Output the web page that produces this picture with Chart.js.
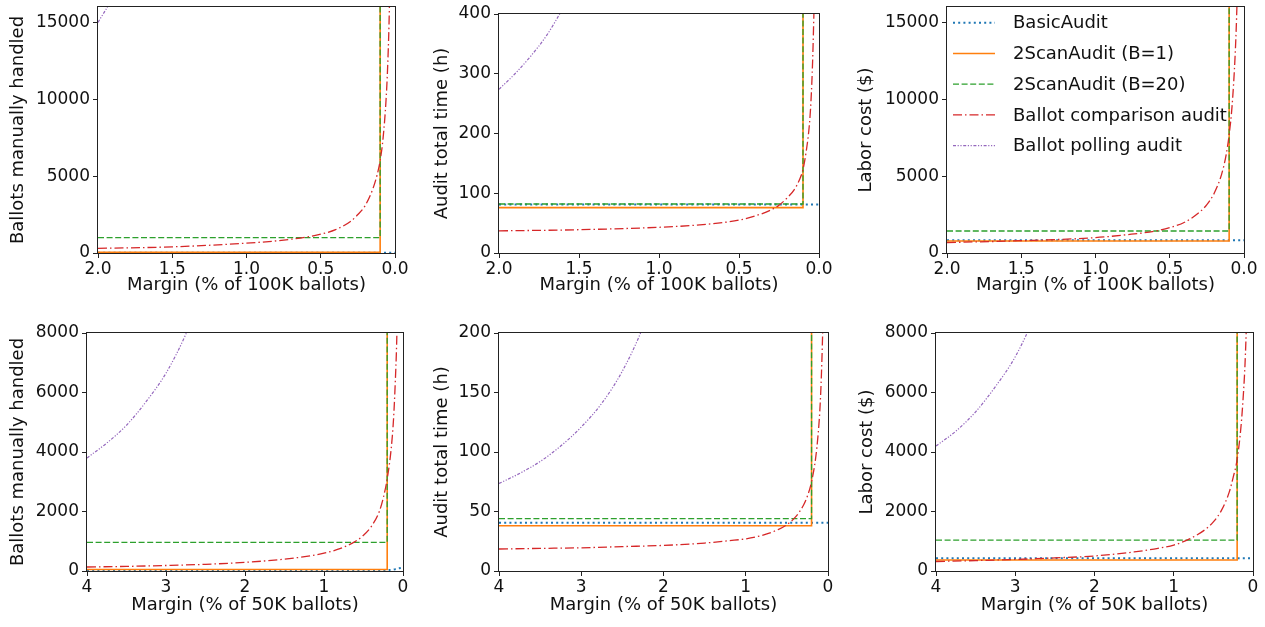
<!DOCTYPE html>
<html>
<head>
<meta charset="utf-8">
<script src="https://cdn.jsdelivr.net/npm/chart.js@4.4.1/dist/chart.umd.min.js"></script>
<style>
  html, body { margin: 0; padding: 0; background: #fff; }
  body { width: 1265px; height: 627px; position: relative; overflow: hidden; }
  canvas { position: absolute; }
</style>
</head>
<body>
<canvas id="p1"></canvas>
<canvas id="p2"></canvas>
<canvas id="p3"></canvas>
<canvas id="p4"></canvas>
<canvas id="p5"></canvas>
<canvas id="p6"></canvas>
<script>
// ---- data ----
var seriesNames = ['BasicAudit', '2ScanAudit (B=1)', '2ScanAudit (B=20)', 'Ballot comparison audit', 'Ballot polling audit'];

// top row: 100K ballots, margin in %
var xTicksTop = [0, 0.5, 1.0, 1.5, 2.0];
var basicXTop = [2.0, 0.0];
var stepXTop = [2.0, 0.1, 0.1, 0.0];
var compXTop = [2.0, 1.5, 1.0, 0.8, 0.6, 0.5, 0.4, 0.3, 0.25, 0.2, 0.15, 0.12, 0.1, 0.08, 0.06, 0.05, 0.04, 0.03];
var pollXTop = [2.0, 1.9, 1.8, 1.7, 1.6, 1.5, 1.4];

var basicBallotsTop = [10, 10];
var scanB1BallotsTop = [50, 50, 100000, 100000];
var scanB20BallotsTop = [1000, 1000, 100000, 100000];
var compBallotsTop = [300, 400, 640, 790, 1030, 1220, 1520, 2050, 2500, 3100, 4150, 5100, 6000, 7500, 10000, 12000, 15000, 20000];
var pollBallotsTop = [15000, 16600, 18500, 20800, 23400, 26700, 30600];

var basicTimeTop = [81, 81];
var scanB1TimeTop = [76, 76, 1500, 1500];
var scanB20TimeTop = [82, 82, 1500, 1500];
var compTimeTop = [37, 39, 43, 46, 51, 55, 62, 72, 80, 92, 108, 124, 140, 170, 215, 255, 320, 420];
var pollTimeTop = [274, 300, 330, 365, 410, 460, 520];

var basicCostTop = [830, 830];
var scanB1CostTop = [780, 780, 30000, 30000];
var scanB20CostTop = [1430, 1430, 30000, 30000];
var compCostTop = [680, 800, 1000, 1180, 1420, 1650, 2000, 2650, 3150, 3900, 5150, 6400, 7700, 9600, 12800, 15300, 19000, 25000];
var pollCostTop = [30000, 33000, 36800, 41200, 46500, 53000, 60500];

// bottom row: 50K ballots
var xTicksBot = [0, 1, 2, 3, 4];
var basicXBot = [4, 0.2, 0.15, 0.1, 0.05, 0];
var basicFlatXBot = [4, 0];
var stepXBot = [4, 0.2, 0.2, 0];
var compXBot = [4, 3.5, 3, 2.5, 2, 1.5, 1.2, 1.0, 0.8, 0.6, 0.5, 0.4, 0.3, 0.25, 0.2, 0.15, 0.12, 0.1, 0.08, 0.06, 0.05];
var pollXBot = [4, 3.75, 3.5, 3.25, 3.0, 2.75, 2.5, 2.25, 2.0];

var basicBallotsBot = [25, 25, 40, 60, 90, 110];
var scanB1BallotsBot = [50, 50, 50000, 50000];
var scanB20BallotsBot = [960, 960, 50000, 50000];
var compBallotsBot = [135, 155, 185, 225, 290, 400, 500, 600, 750, 1000, 1200, 1500, 2000, 2450, 3100, 4100, 5100, 6200, 7700, 10300, 12500];
var pollBallotsBot = [3800, 4300, 4900, 5700, 6650, 7950, 9600, 11900, 15000];

var basicTimeBot = [40.5, 40.5];
var scanB1TimeBot = [38, 38, 800, 800];
var scanB20TimeBot = [44, 44, 800, 800];
var compTimeBot = [18.5, 19, 19.5, 20.5, 21.5, 23.5, 25.5, 27, 30, 35, 39, 45, 55, 63, 75, 95, 115, 134, 165, 215, 255];
var pollTimeBot = [73.5, 82, 92, 105, 121, 141, 168, 205, 256];

var basicCostBot = [425, 425];
var scanB1CostBot = [370, 370, 15000, 15000];
var scanB20CostBot = [1040, 1040, 15000, 15000];
var compCostBot = [320, 350, 390, 440, 505, 640, 760, 870, 1080, 1400, 1650, 2030, 2650, 3150, 3750, 4900, 6000, 7000, 8600, 11200, 13400];
var pollCostBot = [4200, 4700, 5350, 6200, 7200, 8600, 10300, 12700, 16000];

var yTicksBallotsTop = [0, 5000, 10000, 15000];
var yTicksTimeTop = [0, 100, 200, 300, 400];
var yTicksCostTop = [0, 5000, 10000, 15000];
var yTicksBallotsBot = [0, 2000, 4000, 6000, 8000];
var yTicksTimeBot = [0, 50, 100, 150, 200];
var yTicksCostBot = [0, 2000, 4000, 6000, 8000];

// ---- styles ----
var FONT = "'DejaVu Sans', sans-serif";
var TEXT = '#111';
var STYLES = [
  { color: '#1f77b4', width: 2, dash: [2, 3.2] },
  { color: '#ff7f0e', width: 1.6, dash: [] },
  { color: '#2ca02c', width: 1.3, dash: [6, 2.6] },
  { color: '#d62728', width: 1.3, dash: [9, 3, 1.5, 3] },
  { color: '#9467bd', width: 1.2, dash: [3, 1.6, 1.2, 1.6, 1.2, 1.6] },
];

function pts(xs, ys) {
  return xs.map(function (x, i) { return { x: x, y: ys[i] }; });
}

var framePlugin = {
  id: 'frame',
  afterDatasetsDraw: function (chart) {
    var a = chart.chartArea, ctx = chart.ctx;
    ctx.save();
    ctx.strokeStyle = '#222';
    ctx.lineWidth = 1;
    ctx.setLineDash([]);
    ctx.strokeRect(Math.round(a.left) - 0.5, Math.round(a.top) - 0.5, Math.round(a.right - a.left) + 1, Math.round(a.bottom - a.top) + 1);
    ctx.restore();
  },
};

var insideLegend = {
  id: 'insideLegend',
  afterDraw: function (chart) {
    if (!chart.options.plugins.insideLegend || !chart.options.plugins.insideLegend.show) return;
    var a = chart.chartArea, ctx = chart.ctx;
    ctx.save();
    ctx.font = '18px ' + FONT;
    ctx.textBaseline = 'middle';
    ctx.textAlign = 'left';
    seriesNames.forEach(function (name, i) {
      var y = a.top + 15.7 + i * 30.75;
      var st = STYLES[i];
      ctx.strokeStyle = st.color;
      ctx.lineWidth = st.width;
      ctx.setLineDash(st.dash);
      ctx.beginPath();
      ctx.moveTo(a.left + 6, y);
      ctx.lineTo(a.left + 48, y);
      ctx.stroke();
      ctx.setLineDash([]);
      ctx.fillStyle = TEXT;
      ctx.fillText(name, a.left + 66, y + 1);
    });
    ctx.restore();
  },
};

function makePanel(id, box, cfg) {
  var cx = Math.round(box.titleX - 25), cy = Math.round(box.T - 20);
  var cw = Math.round(box.R + 20 - cx);
  var xAxisH = Math.round(box.titleY - box.B + 10.8);
  var ch = Math.round(box.B - cy + xAxisH);
  var yAxisW = box.L - cx;
  var el = document.getElementById(id);
  el.style.left = cx + 'px';
  el.style.top = cy + 'px';
  el.width = cw; el.height = ch;
  el.style.width = cw + 'px'; el.style.height = ch + 'px';

  var datasets = cfg.series.map(function (s, i) {
    var st = STYLES[i];
    return {
      label: seriesNames[i],
      data: pts(s[0], s[1]),
      borderColor: st.color,
      borderWidth: st.width,
      borderDash: st.dash,
      pointRadius: 0,
      fill: false,
      order: 5 - i,
      cubicInterpolationMode: s[2] ? 'monotone' : 'default',
      tension: 0,
    };
  });

  return new Chart(el, {
    type: 'line',
    data: { datasets: datasets },
    plugins: [framePlugin, insideLegend],
    options: {
      responsive: false,
      animation: false,
      devicePixelRatio: 1,
      layout: { padding: { top: 20, right: 20, left: 0, bottom: 0 } },
      plugins: {
        legend: { display: false },
        tooltip: { enabled: false },
        insideLegend: { show: !!cfg.legend },
      },
      scales: {
        x: {
          type: 'linear', min: 0, max: cfg.xMax, reverse: true,
          afterBuildTicks: function (s) { s.ticks = cfg.xTicks.map(function (v) { return { value: v }; }); },
          afterFit: function (s) { s.height = xAxisH; },
          grid: { drawOnChartArea: false, color: '#222', tickLength: 5 },
          border: { display: false },
          ticks: {
            color: TEXT, font: { family: FONT, size: 17 }, padding: 1, maxRotation: 0, autoSkip: false,
            callback: function (v) { return Number(v).toFixed(cfg.xDec); },
          },
          title: { display: true, text: cfg.xTitle, color: TEXT, font: { family: FONT, size: 18 }, padding: { top: 0, bottom: 0 } },
        },
        y: {
          type: 'linear', min: 0, max: cfg.yMax,
          afterBuildTicks: function (s) { s.ticks = cfg.yTicks.map(function (v) { return { value: v }; }); },
          afterFit: function (s) { s.width = yAxisW; },
          grid: { drawOnChartArea: false, color: '#222', tickLength: 5 },
          border: { display: false },
          ticks: {
            color: TEXT, font: { family: FONT, size: 17 }, padding: 3, autoSkip: false,
            callback: function (v) { return String(v); },
          },
          title: { display: true, text: cfg.yTitle, color: TEXT, font: { family: FONT, size: 18 }, padding: { top: 14.2, bottom: 0 } },
        },
      },
    },
  });
}

var xTitleTop = 'Margin (% of 100K ballots)';
var xTitleBot = 'Margin (% of 50K ballots)';

makePanel('p1', { L: 98, R: 395, T: 7, B: 253, titleX: 18, titleY: 285 }, {
  xMax: 2, xTicks: xTicksTop, xDec: 1, yMax: 16000, yTicks: yTicksBallotsTop,
  xTitle: xTitleTop, yTitle: 'Ballots manually handled',
  series: [[basicXTop, basicBallotsTop], [stepXTop, scanB1BallotsTop], [stepXTop, scanB20BallotsTop], [compXTop, compBallotsTop, 1], [pollXTop, pollBallotsTop, 1]],
});
makePanel('p2', { L: 499, R: 819, T: 14, B: 253, titleX: 441.7, titleY: 285 }, {
  xMax: 2, xTicks: xTicksTop, xDec: 1, yMax: 400, yTicks: yTicksTimeTop,
  xTitle: xTitleTop, yTitle: 'Audit total time (h)',
  series: [[basicXTop, basicTimeTop], [stepXTop, scanB1TimeTop], [stepXTop, scanB20TimeTop], [compXTop, compTimeTop, 1], [pollXTop, pollTimeTop, 1]],
});
makePanel('p3', { L: 947, R: 1244, T: 7, B: 253, titleX: 866, titleY: 285 }, {
  xMax: 2, xTicks: xTicksTop, xDec: 1, yMax: 16000, yTicks: yTicksCostTop,
  xTitle: xTitleTop, yTitle: 'Labor cost ($)', legend: true,
  series: [[basicXTop, basicCostTop], [stepXTop, scanB1CostTop], [stepXTop, scanB20CostTop], [compXTop, compCostTop, 1], [pollXTop, pollCostTop, 1]],
});
makePanel('p4', { L: 87, R: 403, T: 333, B: 571, titleX: 18.3, titleY: 605 }, {
  xMax: 4, xTicks: xTicksBot, xDec: 0, yMax: 8000, yTicks: yTicksBallotsBot,
  xTitle: xTitleBot, yTitle: 'Ballots manually handled',
  series: [[basicXBot, basicBallotsBot], [stepXBot, scanB1BallotsBot], [stepXBot, scanB20BallotsBot], [compXBot, compBallotsBot, 1], [pollXBot, pollBallotsBot, 1]],
});
makePanel('p5', { L: 499, R: 828, T: 333, B: 571, titleX: 441.7, titleY: 605 }, {
  xMax: 4, xTicks: xTicksBot, xDec: 0, yMax: 200, yTicks: yTicksTimeBot,
  xTitle: xTitleBot, yTitle: 'Audit total time (h)',
  series: [[basicFlatXBot, basicTimeBot], [stepXBot, scanB1TimeBot], [stepXBot, scanB20TimeBot], [compXBot, compTimeBot, 1], [pollXBot, pollTimeBot, 1]],
});
makePanel('p6', { L: 936, R: 1253, T: 333, B: 571, titleX: 867.3, titleY: 605 }, {
  xMax: 4, xTicks: xTicksBot, xDec: 0, yMax: 8000, yTicks: yTicksCostBot,
  xTitle: xTitleBot, yTitle: 'Labor cost ($)',
  series: [[basicFlatXBot, basicCostBot], [stepXBot, scanB1CostBot], [stepXBot, scanB20CostBot], [compXBot, compCostBot, 1], [pollXBot, pollCostBot, 1]],
});
</script>
</body>
</html>
